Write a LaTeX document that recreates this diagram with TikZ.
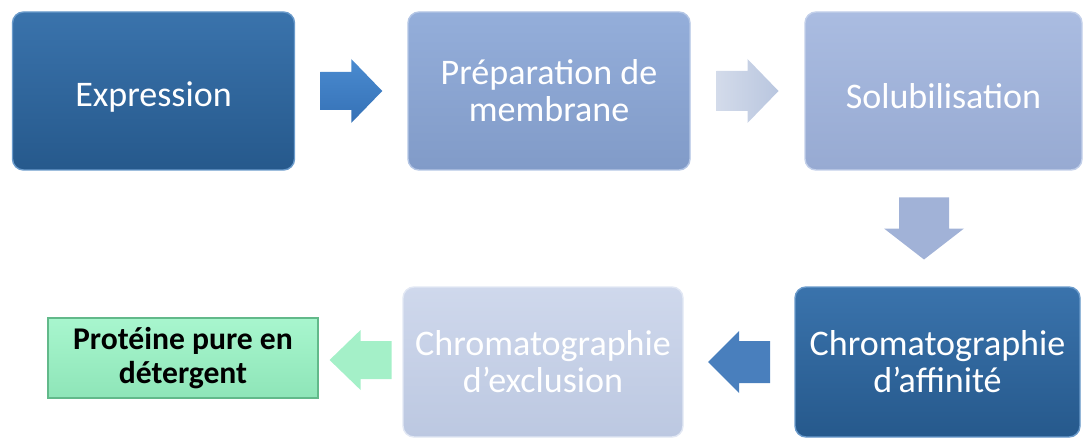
\documentclass[tikz,border=0pt]{standalone}
\usepackage{fontspec}
\setmainfont{Carlito}
\usetikzlibrary{calc}

\definecolor{fonceH}{HTML}{3A73AC}
\definecolor{fonceB}{HTML}{26598C}
\definecolor{fonceT}{HTML}{6B9BCB}
\definecolor{prepH}{HTML}{94AEDA}
\definecolor{prepB}{HTML}{819BC8}
\definecolor{soluH}{HTML}{AABCE1}
\definecolor{soluB}{HTML}{97AAD2}
\definecolor{exclH}{HTML}{CFD8EC}
\definecolor{exclB}{HTML}{BCC8E1}
\definecolor{vertH}{HTML}{A8F6CE}
\definecolor{vertB}{HTML}{8EE5B8}
\definecolor{vertT}{HTML}{62B98A}
\definecolor{flecheH}{HTML}{4A8BD0}
\definecolor{flecheB}{HTML}{3571B6}
\definecolor{flecheG}{HTML}{D3DBEA}
\definecolor{flecheD}{HTML}{B9C6DF}
\definecolor{flecheV}{HTML}{A4F0C8}

\begin{document}
\begin{tikzpicture}[
  etape/.style={rounded corners=0.22cm, minimum width=5.64cm, minimum height=3.16cm,
    align=center, text=white, inner sep=0pt, line width=0.8pt,
    font=\fontsize{20.5}{21}\selectfont,
    execute at begin node={\rule{0pt}{20.5pt}}},
  fonce/.style={etape, top color=fonceH, bottom color=fonceB, draw=fonceT},
  prepa/.style={etape, top color=prepH, bottom color=prepB, draw=prepH!70!white},
  solub/.style={etape, top color=soluH, bottom color=soluB, draw=soluH!70!white},
  exclu/.style={etape, top color=exclH, bottom color=exclB, draw=exclH!60!white},
  final/.style={minimum width=5.4cm, minimum height=1.6cm, align=center,
    top color=vertH, bottom color=vertB, draw=vertT, line width=1pt,
    font=\bfseries\fontsize{18}{19}\selectfont},
  pics/fleche/.style n args={3}{code={
    \path[#3] (-0.62,-#1) -- (0,-#1) -- (0,-#2) -- (0.62,0) -- (0,#2) -- (0,#1) -- (-0.62,#1) -- cycle;
  }}
]
\useasboundingbox (0,0) rectangle (21.68,-8.78);

% rangee du haut
\node[fonce] (expr) at (3.07,-1.82) {Expression};
\node[prepa] (prep) at (10.98,-1.82) {Préparation de\\membrane};
\node[solub, minimum width=5.54cm] (solu) at (18.87,-1.82) {Solubilisation};

% rangee du bas
\node[fonce, minimum width=5.7cm, minimum height=3cm] (affi) at (18.75,-7.24) {Chromatographie\\d’affinité};
\node[exclu, minimum width=5.6cm, minimum height=3cm] (excl) at (10.86,-7.24) {Chromatographie\\d’exclusion};
\node[final] (prot) at (3.66,-7.16) {Protéine pure en\\détergent};

% fleches
\pic at ($(expr.east)!0.5!(prep.west)$) {fleche={0.38}{0.64}{top color=flecheH,bottom color=flecheB}};
\pic at ($(prep.east)!0.5!(solu.west)$) {fleche={0.4}{0.64}{left color=flecheG,right color=flecheD}};
\pic[rotate=-90] at ($(solu.south)!0.5!(affi.north)+(-0.33,0)$) {fleche={0.5}{0.8}{fill=soluB!90!white}};
\pic[rotate=180] at ($(affi.west)!0.5!(excl.east)$) {fleche={0.42}{0.62}{fill=flecheB!90!white}};
\pic[rotate=180] at ($(excl.west)!0.5!(prot.east)$) {fleche={0.38}{0.6}{fill=flecheV}};
\end{tikzpicture}
\end{document}
